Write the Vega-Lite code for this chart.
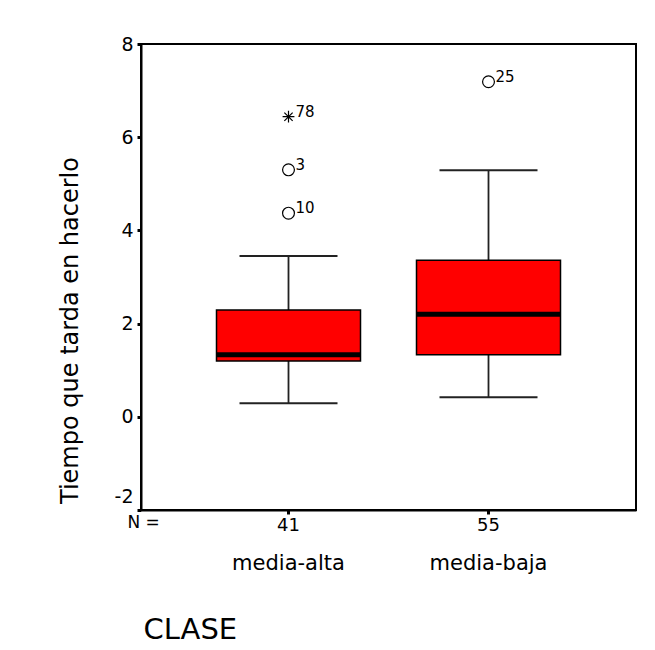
{
  "$schema": "https://vega.github.io/schema/vega-lite/v6.json",
  "width": 495,
  "height": 466,
  "autosize": "none",
  "padding": {"left": 141, "top": 44, "right": 19, "bottom": 140},
  "background": "white",
  "config": {
    "view": {"stroke": "black", "strokeWidth": 2},
    "font": "DejaVu Sans",
    "axis": {"labelColor": "black", "titleColor": "black", "labelFont": "DejaVu Sans", "titleFont": "DejaVu Sans", "titleFontWeight": "normal", "grid": false}
  },
  "datasets": {
    "boxes": [
      {"CLASE": "media-alta", "n": 41, "lo": 0.29, "q1": 1.2, "median": 1.33, "q3": 2.29, "hi": 3.45},
      {"CLASE": "media-baja", "n": 55, "lo": 0.42, "q1": 1.33, "median": 2.2, "q3": 3.36, "hi": 5.29}
    ],
    "outliers": [
      {"CLASE": "media-alta", "tiempo": 6.44, "caso": "78", "tipo": "extremo"},
      {"CLASE": "media-alta", "tiempo": 5.3, "caso": "3", "tipo": "atipico"},
      {"CLASE": "media-alta", "tiempo": 4.37, "caso": "10", "tipo": "atipico"},
      {"CLASE": "media-baja", "tiempo": 7.19, "caso": "25", "tipo": "atipico"}
    ]
  },
  "resolve": {"axis": {"x": "independent"}},
  "layer": [
    {
      "data": {"name": "boxes"},
      "mark": {"type": "rule", "color": "#222", "strokeWidth": 1.8},
      "encoding": {
        "x": {"field": "CLASE", "type": "nominal", "sort": null,
          "scale": {"paddingInner": 0.28, "paddingOuter": 0.3775},
          "axis": {"orient": "bottom", "domain": false, "ticks": false, "labelAngle": 0,
            "labelPadding": 42, "labelFontSize": 21, "labelBaseline": "top",
            "title": "CLASE", "titleFontSize": 29, "titleX": 2, "titleY": 105,
            "titleAlign": "left", "titleBaseline": "top", "titleAngle": 0}},
        "y": {"field": "lo", "type": "quantitative",
          "scale": {"domain": [-2, 8], "nice": false, "zero": false},
          "axis": {"values": [-2, 0, 2, 4, 6, 8], "labelExpr": "'' + datum.value", "domainColor": "black", "domainWidth": 2,
            "tickColor": "black", "tickSize": 4, "tickWidth": 3, "labelPadding": 4,
            "labelOffset": {"condition": {"test": "datum.value == -2", "value": -14}, "value": 0},
            "labelFontSize": 19, "title": "Tiempo que tarda en hacerlo", "titleFontSize": 24,
            "titleX": -71, "titleY": 286, "titleAlign": "center", "titleBaseline": "middle", "titleAngle": -90}},
        "y2": {"field": "hi"}
      }
    },
    {
      "data": {"name": "boxes"},
      "mark": {"type": "tick", "color": "#222", "size": 98, "thickness": 2, "opacity": 1},
      "encoding": {
        "x": {"field": "CLASE", "type": "nominal", "sort": null, "axis": null},
        "y": {"field": "lo", "type": "quantitative"}
      }
    },
    {
      "data": {"name": "boxes"},
      "mark": {"type": "tick", "color": "#222", "size": 98, "thickness": 2, "opacity": 1},
      "encoding": {
        "x": {"field": "CLASE", "type": "nominal", "sort": null, "axis": null},
        "y": {"field": "hi", "type": "quantitative"}
      }
    },
    {
      "data": {"name": "boxes"},
      "mark": {"type": "bar", "fill": "#ff0000", "stroke": "black", "strokeWidth": 1.5, "opacity": 1},
      "encoding": {
        "x": {"field": "CLASE", "type": "nominal", "sort": null,
          "axis": {"orient": "bottom", "labelExpr": "datum.value == 'media-alta' ? '41' : '55'",
            "labelAngle": 0, "labelFontSize": 18, "labelPadding": 2, "labelBaseline": "top",
            "domainColor": "black", "domainWidth": 2, "tickColor": "black", "tickSize": 4, "tickWidth": 3,
            "title": "N =", "titleFontSize": 17, "titleX": -14, "titleY": 4,
            "titleAlign": "left", "titleBaseline": "top", "titleAngle": 0}},
        "y": {"field": "q1", "type": "quantitative"},
        "y2": {"field": "q3"}
      }
    },
    {
      "data": {"name": "boxes"},
      "mark": {"type": "tick", "color": "black", "size": 144, "thickness": 5, "opacity": 1},
      "encoding": {
        "x": {"field": "CLASE", "type": "nominal", "sort": null, "axis": null},
        "y": {"field": "median", "type": "quantitative"}
      }
    },
    {
      "data": {"name": "outliers"},
      "mark": {"type": "point", "filled": false, "stroke": "black", "strokeWidth": 1.2, "opacity": 1},
      "encoding": {
        "x": {"field": "CLASE", "type": "nominal", "sort": null, "axis": null},
        "y": {"field": "tiempo", "type": "quantitative"},
        "shape": {"field": "tipo", "type": "nominal", "legend": null,
          "scale": {"domain": ["atipico", "extremo"], "range": ["circle", "M-1,0L1,0M0,-1L0,1M-0.7,-0.7L0.7,0.7M-0.7,0.7L0.7,-0.7"]}},
        "size": {"value": 140}
      }
    },
    {
      "data": {"name": "outliers"},
      "mark": {"type": "text", "align": "left", "baseline": "middle", "dx": 7, "dy": -5, "fontSize": 15, "color": "black"},
      "encoding": {
        "x": {"field": "CLASE", "type": "nominal", "sort": null, "axis": null},
        "y": {"field": "tiempo", "type": "quantitative"},
        "text": {"field": "caso"}
      }
    }
  ]
}
